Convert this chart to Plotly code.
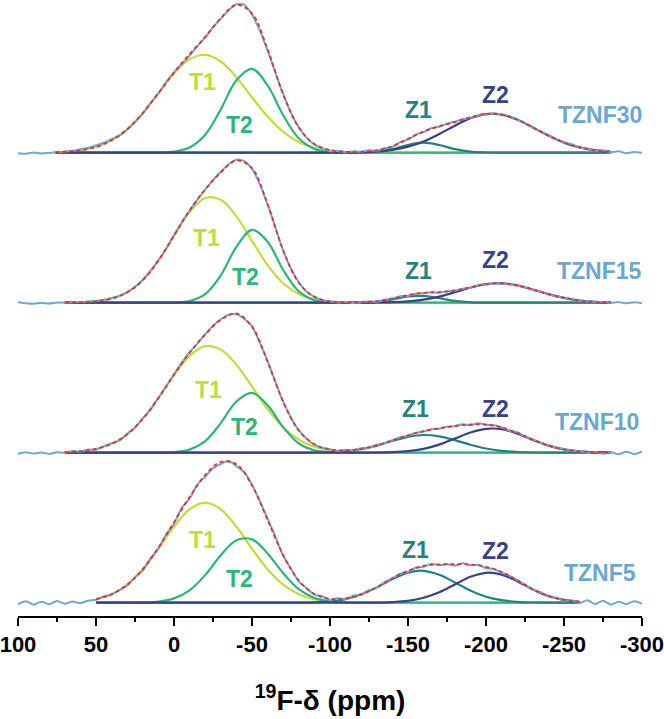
import plotly.graph_objects as go

# ---------------- data (intensities in arbitrary units) ----------------
SAMPLES = ["TZNF30", "TZNF15", "TZNF10", "TZNF5"]
COMPONENTS = ["T1", "T2", "Z1", "Z2"]

# chemical-shift grid (ppm) of the experimental spectra
PPM_EXP = list(range(100, -301, -5))
# chemical-shift grids (ppm) of the deconvoluted components
GRID_TZNF30 = [76] + list(range(70, -281, -10))
GRID_TZNF15 = list(range(70, -281, -10))
GRID_TZNF10 = list(range(70, -281, -10))
GRID_TZNF5 = list(range(50, -261, -10))

EXP_TZNF30 = [-0.5, -1.0, 0.3, -0.8, -0.2, 0.4, 1.2, 2.0, 3.5, 5.0,
              7.5, 10.0, 13.5, 17.0, 23.0, 30.5, 39.0, 49.5, 59.0, 70.5,
              80.5, 89.0, 97.0, 106.5, 115.0, 125.5, 134.0, 142.5, 148.5, 148.0,
              138.0, 122.0, 102.0, 80.0, 58.5, 40.0, 25.5, 15.0, 8.0, 4.5,
              1.5, 1.8, 0.5, 1.5, 1.0, 2.5, 2.0, 4.5, 6.0, 10.5,
              13.0, 18.0, 20.5, 24.5, 26.0, 29.0, 31.0, 33.5, 35.0, 37.5,
              38.0, 39.5, 38.0, 36.5, 33.0, 29.5, 25.0, 21.5, 17.5, 13.0,
              10.5, 8.5, 5.0, 4.0, 2.0, 2.5, 0.5, 1.5, -0.5, 0.8,
              0.0]
EXP_TZNF15 = [0.5, -0.5, -1.0, -0.3, -0.8, 0.2, 0.0, 0.5, 0.8, 1.2,
              2.0, 3.0, 4.8, 7.0, 10.5, 16.0, 23.0, 32.0, 42.5, 54.0,
              67.5, 80.5, 92.0, 103.0, 113.0, 122.5, 131.0, 138.5, 143.0, 141.5,
              134.0, 118.5, 98.0, 75.5, 52.0, 34.0, 20.5, 11.0, 6.0, 2.5,
              1.5, 0.2, 0.8, -0.3, 0.5, 1.5, 1.0, 3.0, 4.5, 6.5,
              7.0, 9.0, 9.5, 10.5, 10.0, 11.5, 12.0, 14.0, 15.0, 17.5,
              18.0, 19.5, 19.0, 18.5, 17.0, 15.5, 13.0, 11.0, 8.5, 6.5,
              5.0, 3.5, 2.0, 1.5, 0.5, 1.0, -0.3, 0.6, -0.5, 0.4,
              -0.4]
EXP_TZNF10 = [-1.0, 0.5, -0.8, 0.3, -1.2, 0.5, 0.0, 1.8, 1.0, 3.2,
              3.0, 6.5, 9.5, 12.0, 19.0, 25.0, 34.5, 43.0, 55.0, 66.5,
              78.5, 90.0, 100.5, 109.0, 118.5, 127.0, 133.5, 138.0, 138.5, 134.0,
              126.5, 110.0, 91.5, 71.0, 51.0, 35.0, 22.5, 14.0, 8.0, 5.0,
              3.5, 2.0, 3.0, 2.5, 4.5, 5.0, 8.0, 9.5, 12.5, 15.5,
              17.0, 20.0, 21.0, 23.5, 24.0, 26.0, 26.5, 28.5, 27.5, 29.5,
              28.0, 27.5, 25.5, 22.0, 20.5, 16.0, 13.5, 10.0, 7.5, 5.0,
              3.8, 2.0, 1.5, 0.0, 0.8, -1.0, 0.5, -1.5, 1.0, -1.5,
              1.0]
EXP_TZNF5 = [-1.5, 1.5, -2.0, 1.0, -1.5, 1.8, -1.0, 1.2, -0.5, 2.0,
             3.0, 6.5, 8.0, 12.5, 17.0, 25.5, 32.0, 44.5, 54.0, 68.5,
             79.0, 95.0, 104.0, 118.0, 126.0, 134.5, 138.5, 142.0, 136.5, 130.5,
             118.0, 101.5, 84.0, 66.0, 47.0, 34.0, 21.0, 14.5, 8.0, 6.5,
             2.5, 4.5, 3.5, 7.0, 8.5, 12.5, 15.0, 20.5, 24.5, 29.0,
             31.0, 35.0, 36.0, 39.0, 37.5, 38.5, 37.0, 39.5, 37.5, 38.0,
             34.5, 34.0, 30.0, 27.0, 22.5, 18.0, 13.0, 10.5, 6.0, 5.0,
             2.0, 2.5, -0.5, 2.5, -1.5, 2.0, -2.0, 1.0, -1.5, 1.5,
             -1.0]

T1_TZNF30 = [0.5, 0.9, 2.4, 5.8, 12.4, 23.5, 39.7, 59.5, 79.1, 93.4, 97.9, 91.2, 75.4,
             55.4, 36.1, 20.9, 10.7, 4.9, 2.0, 0.7, 0.2, 0.1] + [0] * 15
T2_TZNF30 = [0] * 7 + [0.1, 1.0, 5.1, 17.9, 43.3, 72.4, 83.8, 67.3, 37.4, 14.4, 3.8,
                       0.7, 0.1] + [0] * 17
Z1_TZNF30 = [0] * 20 + [0.2, 1.0, 3.6, 7.7, 10.0, 7.7, 3.6, 1.0, 0.2] + [0] * 8
Z2_TZNF30 = [0] * 19 + [0.1, 0.4, 1.2, 2.9, 6.1, 11.3, 18.7, 27.0, 34.4, 38.6, 38.1,
                        33.1, 25.3, 17.1, 10.1, 5.3, 2.4, 1.0]

T1_TZNF15 = [0.1, 0.4, 1.3, 4.0, 10.3, 22.5, 42.0, 66.9, 90.6, 104.6, 103.0, 86.4,
             61.7, 37.6, 19.5, 8.6, 3.3, 1.0, 0.3, 0.1] + [0] * 16
T2_TZNF15 = [0] * 6 + [0.0, 0.2, 1.7, 8.6, 27.4, 55.8, 72.8, 61.0, 32.7, 11.3, 2.5,
                       0.4, 0.0] + [0] * 17
Z1_TZNF15 = [0] * 19 + [0.2, 1.1, 3.3, 6.2, 6.8, 4.5, 1.8, 0.4, 0.1] + [0] * 8
Z2_TZNF15 = [0] * 20 + [0.2, 0.5, 1.3, 3.1, 6.1, 10.4, 15.0, 18.5, 19.4, 17.4, 13.2,
                        8.6, 4.8, 2.2, 0.9, 0.3]

T1_TZNF10 = [0.5, 1.4, 3.7, 8.9, 18.4, 33.8, 54.5, 77.5, 96.8, 106.6, 103.2, 88.0,
             66.1, 43.6, 25.4, 13.0, 5.9, 2.3, 0.8, 0.3, 0.1] + [0] * 15
T2_TZNF10 = [0] * 6 + [0.1, 0.6, 3.1, 11.6, 29.6, 51.2, 59.9, 47.4, 25.4, 9.2, 2.3,
                       0.4, 0.0] + [0] * 17
Z1_TZNF10 = [0] * 16 + [0.2, 0.5, 1.5, 3.6, 7.1, 11.7, 15.8, 17.7, 16.4, 12.6, 8.0,
                        4.2, 1.8, 0.7, 0.2, 0.1] + [0] * 4
Z2_TZNF10 = [0] * 20 + [0.1, 0.5, 1.5, 3.9, 8.1, 14.1, 20.2, 23.9, 23.5, 19.1, 12.8,
                        7.1, 3.3, 1.3, 0.4, 0.1]

T1_TZNF5 = [3.5, 8.5, 18.0, 33.4, 54.0, 76.0, 93.4, 100.0, 93.4, 76.0, 54.0, 33.4,
            18.0, 8.5, 3.5, 1.2, 0.4, 0.1] + [0] * 14
T2_TZNF5 = [0.0, 0.0, 0.0, 0.2, 1.1, 4.3, 12.4, 27.6, 47.4, 62.5, 63.3, 49.3, 29.5,
            13.6, 4.8, 1.3, 0.3, 0.0] + [0] * 14
Z1_TZNF5 = [0] * 13 + [0.1, 0.4, 1.3, 3.6, 8.2, 15.3, 23.6, 30.1, 31.9, 27.9, 20.3,
                       12.2, 6.0, 2.5, 0.9, 0.2] + [0] * 3
Z2_TZNF5 = [0] * 18 + [0.1, 0.6, 1.8, 4.9, 10.4, 18.2, 25.9, 29.9, 28.1, 21.5, 13.3,
                       6.7, 2.8, 0.9]

# label anchor positions (ppm, intensity above the sample's baseline)
LABEL_POS = {
    "TZNF30": {"T1": (-18, 71), "T2": (-42, 28), "Z1": (-157, 43), "Z2": (-206, 58), "name": (-273, 38)},
    "TZNF15": {"T1": (-21, 65), "T2": (-46, 26), "Z1": (-157, 32), "Z2": (-206, 43), "name": (-273, 32)},
    "TZNF10": {"T1": (-22, 63), "T2": (-45, 26), "Z1": (-155, 44), "Z2": (-206, 44), "name": (-271, 31)},
    "TZNF5": {"T1": (-18, 63), "T2": (-42, 24), "Z1": (-155, 53), "Z2": (-206, 52), "name": (-273, 30)},
}

X_TICKS = list(range(100, -301, -50))

# ---------------- styling ----------------
STACK_OFFSET = {"TZNF30": 450, "TZNF15": 300, "TZNF10": 150, "TZNF5": 0}
COLORS = {"T1": "#c3dc3b", "T2": "#2fb57a", "Z1": "#24837f", "Z2": "#36428b"}
EXP_COLOR = "#6fa8d2"
FIT_COLOR = "#e8312f"
NAME_COLOR = "#6aa8d3"
FONT = "Liberation Sans, Arial, sans-serif"

DATA = {
    "TZNF30": (GRID_TZNF30, EXP_TZNF30, T1_TZNF30, T2_TZNF30, Z1_TZNF30, Z2_TZNF30),
    "TZNF15": (GRID_TZNF15, EXP_TZNF15, T1_TZNF15, T2_TZNF15, Z1_TZNF15, Z2_TZNF15),
    "TZNF10": (GRID_TZNF10, EXP_TZNF10, T1_TZNF10, T2_TZNF10, Z1_TZNF10, Z2_TZNF10),
    "TZNF5": (GRID_TZNF5, EXP_TZNF5, T1_TZNF5, T2_TZNF5, Z1_TZNF5, Z2_TZNF5),
}

fig = go.Figure()
annotations = []
for s in SAMPLES:
    grid, exp, t1, t2, z1, z2 = DATA[s]
    off = STACK_OFFSET[s]
    comps = {"T1": t1, "T2": t2, "Z1": z1, "Z2": z2}
    for c in COMPONENTS:
        fig.add_trace(go.Scatter(
            x=grid, y=[v + off for v in comps[c]], mode="lines",
            line=dict(color=COLORS[c], width=2.2, shape="spline", smoothing=1.0),
            hoverinfo="skip", showlegend=False))
    fig.add_trace(go.Scatter(
        x=PPM_EXP, y=[v + off for v in exp], mode="lines",
        line=dict(color=EXP_COLOR, width=2.0, shape="spline", smoothing=0.7),
        hoverinfo="skip", showlegend=False))
    fit = [a + b + c + d for a, b, c, d in zip(t1, t2, z1, z2)]
    fig.add_trace(go.Scatter(
        x=grid, y=[v + off for v in fit], mode="lines",
        line=dict(color=FIT_COLOR, width=1.8, dash="4px,3px", shape="spline", smoothing=1.0),
        hoverinfo="skip", showlegend=False))
    for c in COMPONENTS:
        px, py = LABEL_POS[s][c]
        annotations.append(dict(x=px, y=py + off, text=c, showarrow=False,
                                xanchor="center", yanchor="middle",
                                font=dict(family=FONT, size=23, color=COLORS[c], weight="bold")))
    px, py = LABEL_POS[s]["name"]
    annotations.append(dict(x=px, y=py + off, text=s, showarrow=False,
                            xanchor="center", yanchor="middle",
                            font=dict(family=FONT, size=23, color=NAME_COLOR, weight="bold")))

fig.update_layout(
    width=664, height=719,
    margin=dict(l=18, r=22, t=0, b=103),
    paper_bgcolor="white", plot_bgcolor="white",
    annotations=annotations,
    xaxis=dict(
        range=[100, -300], tickmode="array", tickvals=X_TICKS,
        ticktext=[str(v) for v in X_TICKS],
        ticks="outside", ticklen=8, tickwidth=2, tickcolor="black",
        showline=True, linewidth=2, linecolor="black",
        showgrid=False, zeroline=False, ticklabeloverflow="allow",
        tickfont=dict(family=FONT, size=22, color="black", weight="bold"),
        minor=dict(ticks="outside", ticklen=4, tickwidth=2, tickcolor="black",
                   tickmode="array", tickvals=[75, 25, -25, -75, -125, -175, -225, -275]),
        title=dict(text="<sup>19</sup>F-δ (ppm)", standoff=34,
                   font=dict(family=FONT, size=28, color="black", weight="bold")),
    ),
    yaxis=dict(range=[-13.3, 602.7], visible=False),
)

fig.write_html("out.html", config={"displayModeBar": False},
               post_script="document.body.style.margin='0px';")
